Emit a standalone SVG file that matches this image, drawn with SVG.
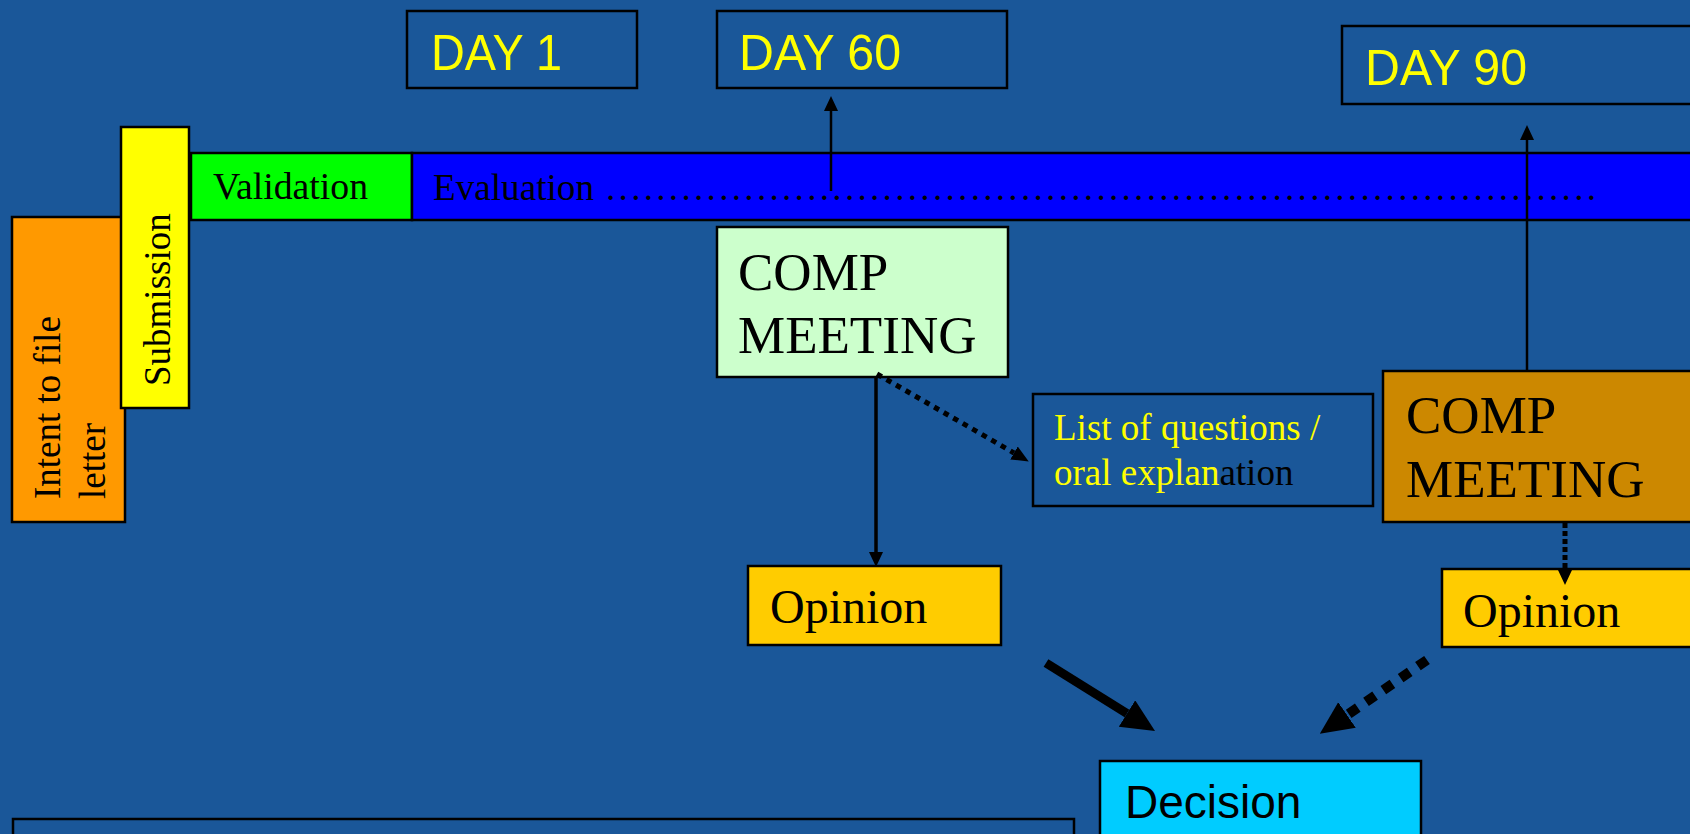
<svg xmlns="http://www.w3.org/2000/svg" width="1690" height="834" viewBox="0 0 1690 834">
  <style>
    .box { stroke: #000; stroke-width: 2.5; }
    .sans { font-family: "Liberation Sans", Arial, sans-serif; }
    .serif { font-family: "Liberation Serif", "Times New Roman", serif; }
    .day { fill: #FFFF00; font-size: 50px; }
    .small { font-size: 37px; fill: #000; }
    .big { font-size: 53px; fill: #000; }
    .op { font-size: 48px; fill: #000; }
    .conn { fill: none; stroke: #000; }
  </style>
  <defs>
    <marker id="headS" markerUnits="userSpaceOnUse" markerWidth="16" markerHeight="16" refX="0" refY="7" orient="auto">
      <path d="M0,0 L15,7 L0,14 z" fill="#000"/>
    </marker>
    <marker id="headM" markerUnits="userSpaceOnUse" markerWidth="20" markerHeight="20" refX="0" refY="7.5" orient="auto">
      <path d="M0,0 L17,7.5 L0,15 z" fill="#000"/>
    </marker>
    <marker id="headL" markerUnits="userSpaceOnUse" markerWidth="36" markerHeight="34" refX="0" refY="15.5" orient="auto">
      <path d="M0,0 L33,15.5 L0,31 z" fill="#000"/>
    </marker>
  </defs>

  <rect x="0" y="0" width="1690" height="834" fill="#1A5799"/>

  <!-- day markers -->
  <g id="day1">
    <rect class="box" x="407" y="11" width="230" height="77" fill="#1A5799"/>
    <text class="sans day" x="431" y="70" textLength="131" lengthAdjust="spacingAndGlyphs">DAY 1</text>
  </g>
  <g id="day60">
    <rect class="box" x="717" y="11" width="290" height="77" fill="#1A5799"/>
    <text class="sans day" x="739" y="70" textLength="162" lengthAdjust="spacingAndGlyphs">DAY 60</text>
  </g>
  <g id="day90">
    <rect class="box" x="1342" y="26" width="400" height="78" fill="#1A5799"/>
    <text class="sans day" x="1365" y="85" textLength="162" lengthAdjust="spacingAndGlyphs">DAY 90</text>
  </g>

  <!-- timeline phases -->
  <g id="intent">
    <rect class="box" x="12" y="217" width="113" height="305" fill="#FF9900"/>
    <text class="serif small" transform="translate(60,499) rotate(-90)">Intent to file</text>
    <text class="serif small" transform="translate(105,499) rotate(-90)">letter</text>
  </g>
  <g id="submission">
    <rect class="box" x="121" y="127" width="68" height="281" fill="#FFFF00"/>
    <text class="serif small" transform="translate(170,386) rotate(-90)">Submission</text>
  </g>
  <g id="validation">
    <rect class="box" x="191" y="153" width="221" height="67" fill="#00FF00"/>
    <text class="serif small" x="213" y="199" textLength="155" lengthAdjust="spacingAndGlyphs">Validation</text>
  </g>
  <g id="evaluation">
    <rect class="box" x="412" y="153" width="1300" height="67" fill="#0000FF"/>
    <text class="serif small" x="433" y="200" textLength="161" lengthAdjust="spacingAndGlyphs">Evaluation</text>
    <text class="serif small" x="606" y="200" textLength="990" lengthAdjust="spacing">...............................................................................</text>
  </g>

  <!-- meetings and outputs -->
  <g id="comp1">
    <rect class="box" x="717" y="227" width="291" height="150" fill="#CCFFCC"/>
    <text class="serif big" x="738" y="290">COMP</text>
    <text class="serif big" x="738" y="353">MEETING</text>
  </g>
  <g id="questions">
    <rect class="box" x="1033" y="394" width="340" height="112" fill="#1A5799"/>
    <text class="serif small" x="1054" y="440" style="fill:#FFFF00">List of questions /</text>
    <text class="serif small" x="1054" y="485"><tspan style="fill:#FFFF00">oral explan</tspan><tspan style="fill:#000">ation</tspan></text>
  </g>
  <g id="comp2">
    <rect class="box" x="1383" y="371" width="330" height="151" fill="#CC8800"/>
    <text class="serif big" x="1406" y="433">COMP</text>
    <text class="serif big" x="1406" y="497">MEETING</text>
  </g>
  <g id="opinion1">
    <rect class="box" x="748" y="566" width="253" height="79" fill="#FFCC00"/>
    <text class="serif op" x="770" y="623">Opinion</text>
  </g>
  <g id="opinion2">
    <rect class="box" x="1442" y="569" width="270" height="78" fill="#FFCC00"/>
    <text class="serif op" x="1463" y="627">Opinion</text>
  </g>
  <g id="decision">
    <rect class="box" x="1100" y="761" width="321" height="90" fill="#00CCFF"/>
    <text class="sans" x="1125" y="818" font-size="46" fill="#000">Decision</text>
  </g>
  <g id="notes">
    <rect class="box" x="13" y="819" width="1061" height="40" fill="#1A5799"/>
  </g>

  <!-- connectors -->
  <g id="connectors">
    <line class="conn" x1="831" y1="191" x2="831" y2="111" stroke-width="2.5" marker-end="url(#headS)"/>
    <line class="conn" x1="1527" y1="371" x2="1527" y2="140" stroke-width="2.5" marker-end="url(#headS)"/>
    <line class="conn" x1="876" y1="377" x2="876" y2="552" stroke-width="3.5" marker-end="url(#headS)"/>
    <line class="conn" x1="877" y1="374" x2="1014" y2="453" stroke-width="5" stroke-dasharray="5.5 5.5" marker-end="url(#headM)"/>
    <line class="conn" x1="1565" y1="523" x2="1565" y2="570" stroke-width="5" stroke-dasharray="5 3" marker-end="url(#headS)"/>
    <line class="conn" x1="1046" y1="663" x2="1127" y2="713.5" stroke-width="9" marker-end="url(#headL)"/>
    <line class="conn" x1="1427" y1="660" x2="1347" y2="715" stroke-width="10" stroke-dasharray="11 10" marker-end="url(#headL)"/>
  </g>
</svg>
